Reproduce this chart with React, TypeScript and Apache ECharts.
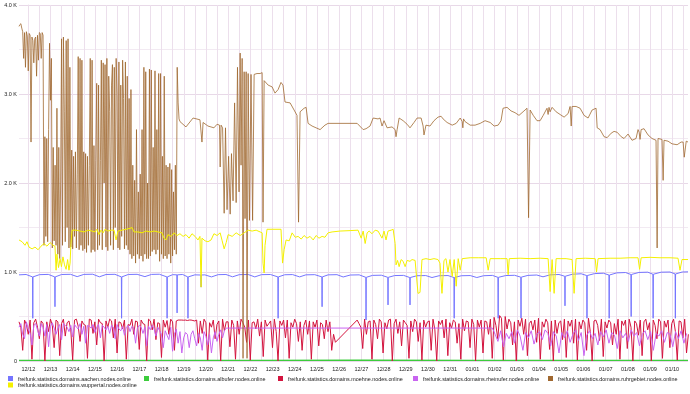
import React, { useEffect, useRef } from 'react';
import * as echarts from 'echarts';

// Tick labels (day 0 = 12/12)
const dayLabels = [
  '12/12', '12/13', '12/14', '12/15', '12/16', '12/17', '12/18', '12/19', '12/20', '12/21',
  '12/22', '12/23', '12/24', '12/25', '12/26', '12/27', '12/28', '12/29', '12/30', '12/31',
  '01/01', '01/02', '01/03', '01/04', '01/05', '01/06', '01/07', '01/08', '01/09', '01/10',
];

const names = {
  aachen: 'freifunk.statistics.domains.aachen.nodes.online',
  albufer: 'freifunk.statistics.domains.albufer.nodes.online',
  moehne: 'freifunk.statistics.domains.moehne.nodes.online',
  rheinufer: 'freifunk.statistics.domains.rheinufer.nodes.online',
  ruhrgebiet: 'freifunk.statistics.domains.ruhrgebiet.nodes.online',
  wuppertal: 'freifunk.statistics.domains.wuppertal.nodes.online',
};

const X_START = -0.42;
const X_END = 29.71;

// ruhrgebiet: dense part, 1-hour samples starting at X_START
const ruhrDenseStep = 1 / 24;
const ruhrDense = [
  3760, 3780, 3790, 3740, 3700, 3400, 3690, 3300, 3700, 3650, 3260, 3680, 3660, 2460,
  3640, 3600, 3350, 3620, 3640, 3200, 3660, 3380, 3690, 3680, 3400, 3690, 3660,
  1300, 2520, 1400, 2500, 1340, 2600,
  3570, 2930, 3400,
  1270, 2400, 1350, 2200, 1300, 2840, 1200, 2400, 1150, 2000,
  3620, 1300, 3640, 2800, 1340, 3600, 1500, 3620, 1270, 3300,
  1280, 2370, 1260, 2300, 1400, 2350, 1270, 2100,
  3420, 1250, 3400, 1300, 3380,
  1240, 2350, 1260, 2330, 1220, 2300, 1300, 2200,
  3400, 1220, 3380, 1250,
  2420, 1230, 2250, 3120, 1250, 3100, 1300, 2250,
  3380, 1250, 3350, 2000, 3330, 1280, 3400, 1240, 3200, 2800, 1300, 3100, 3330, 1250, 3300,
  1500, 3400, 2990, 1270, 3360, 1250, 3100, 1400, 3380, 2950, 1260, 3360, 1300, 3200, 1250,
  2950, 1200, 3050, 1150, 2200, 1180, 2030, 1100, 2600, 1200, 1900, 1150, 2100, 1180, 2600,
  1120, 3300, 1200, 3250, 1150, 2000,
  1150, 3280, 1180, 3270, 1230, 2400, 1250, 3260, 1200, 2600, 1250, 3230, 1120, 3230, 1200,
  2300, 1150, 3200, 1180,
  2200, 1150, 2180, 1200, 2220, 1100, 2150, 1180, 1900, 1250, 2200, 1200,
  3300, 2900, 2720, 2690,
];
// ruhrgebiet: remaining part as [day, value]
const ruhrTail: [number, number][] = [
  [7.10, 2630], [7.42, 2730], [7.73, 2710], [7.82, 2460], [7.87, 2680], [8.09, 2640], [8.36, 2620],
  [8.50, 2660], [8.61, 2650], [8.64, 2180], [8.68, 2650], [8.75, 2620], [8.82, 1660], [8.88, 2620],
  [8.95, 1700], [9.02, 2300], [9.09, 1650], [9.15, 2330], [9.22, 1800], [9.29, 2900], [9.36, 1780],
  [9.42, 3300], [9.49, 1900], [9.54, 3460], [9.58, 2200], [9.63, 3400], [9.67, 30], [9.72, 3250],
  [9.76, 1600], [9.81, 3250], [9.85, 30], [9.90, 3230], [9.96, 1580], [10.03, 3220], [10.10, 1580],
  [10.17, 3220], [10.30, 3230], [10.44, 3230], [10.53, 3240], [10.57, 1560], [10.62, 3150],
  [10.80, 3100], [10.98, 3080], [11.11, 3010], [11.25, 3050], [11.38, 3130], [11.47, 3100],
  [11.56, 2910], [11.79, 2900], [11.97, 2820], [12.10, 2760], [12.17, 1560], [12.24, 2800],
  [12.42, 2840], [12.51, 2850], [12.60, 2670], [12.78, 2640], [12.96, 2620], [13.14, 2600],
  [13.36, 2650], [13.50, 2670], [14.81, 2670], [15.08, 2600], [15.21, 2610], [15.39, 2640],
  [15.53, 2730], [15.75, 2720], [15.84, 2730], [15.93, 2640], [16.02, 2700], [16.16, 2620],
  [16.38, 2630], [16.52, 2600], [16.56, 2520], [16.61, 2600], [16.70, 2730], [16.88, 2700],
  [17.06, 2660], [17.19, 2620], [17.37, 2680], [17.51, 2730], [17.69, 2730], [17.78, 2640],
  [17.82, 2540], [17.91, 2650], [18.09, 2640], [18.27, 2700], [18.45, 2740], [18.59, 2750],
  [18.68, 2720], [18.86, 2680], [19.09, 2650], [19.27, 2670], [19.45, 2730], [19.54, 2690],
  [19.57, 2620], [19.60, 2720], [19.67, 2690], [19.90, 2650], [20.12, 2650], [20.35, 2670],
  [20.57, 2700], [20.80, 2680], [20.98, 2640], [21.16, 2650], [21.29, 2700], [21.38, 2840],
  [21.56, 2850], [21.74, 2810], [21.92, 2790], [22.10, 2760], [22.28, 2800], [22.46, 2840],
  [22.53, 1610], [22.60, 2820], [22.74, 2760], [22.91, 2700], [23.05, 2700], [23.19, 2760],
  [23.36, 2840], [23.41, 2770], [23.45, 2850], [23.50, 2800], [23.59, 2850], [23.77, 2800],
  [23.95, 2770], [24.13, 2740], [24.31, 2780], [24.40, 2860], [24.45, 2640], [24.49, 2860],
  [24.67, 2860], [24.85, 2840], [25.03, 2760], [25.21, 2730], [25.39, 2820], [25.57, 2840],
  [25.62, 2620], [25.75, 2600], [25.93, 2520], [26.07, 2510], [26.25, 2560], [26.38, 2580],
  [26.52, 2570], [26.70, 2520], [26.83, 2500], [27.01, 2550], [27.19, 2480], [27.37, 2500],
  [27.46, 2600], [27.51, 2570], [27.55, 2490], [27.60, 2600], [27.73, 2610], [27.91, 2540],
  [28.09, 2500], [28.27, 2480], [28.32, 1270], [28.36, 2500], [28.54, 2490], [28.59, 2030],
  [28.63, 2480], [28.81, 2470], [28.99, 2440], [29.22, 2430], [29.40, 2460], [29.49, 2460],
  [29.54, 2290], [29.63, 2470], [29.71, 2460],
];

const wuppertal: [number, number][] = [
  [-0.42, 1360], [-0.28, 1340], [-0.15, 1300], [-0.06, 1340], [0.03, 1280], [0.17, 1260], [0.30, 1280],
  [0.44, 1250], [0.57, 1290], [0.71, 1320], [0.84, 1290], [0.98, 1330], [1.11, 1300], [1.20, 1290],
  [1.25, 1020], [1.29, 1200], [1.36, 1050], [1.43, 1150], [1.49, 1060], [1.56, 1170], [1.63, 1080],
  [1.70, 1030], [1.77, 1140], [1.83, 1020], [1.88, 1100], [1.92, 1320], [1.97, 1470], [2.15, 1470],
  [2.33, 1460], [2.51, 1450], [2.69, 1470], [2.87, 1460], [3.00, 1450], [3.09, 1480], [3.18, 1420],
  [3.27, 1470], [3.37, 1440], [3.45, 1480], [3.59, 1460], [3.73, 1470], [3.86, 1470], [3.95, 1360],
  [4.04, 1460], [4.22, 1470], [4.40, 1480], [4.58, 1490], [4.67, 1500], [4.76, 1450], [4.94, 1450],
  [5.12, 1440], [5.30, 1460], [5.48, 1450], [5.66, 1460], [5.84, 1450], [6.02, 1440], [6.11, 1380],
  [6.20, 1360], [6.29, 1420], [6.43, 1400], [6.56, 1440], [6.70, 1410], [6.83, 1430], [6.97, 1400],
  [7.10, 1420], [7.24, 1380], [7.37, 1430], [7.51, 1400], [7.64, 1360], [7.73, 1400], [7.78, 830],
  [7.82, 1380], [7.96, 1350], [8.09, 1340], [8.23, 1360], [8.36, 1430], [8.50, 1410], [8.64, 1440],
  [8.73, 1350], [8.82, 1260], [8.91, 1330], [9.00, 1420], [9.18, 1400], [9.36, 1440], [9.54, 1410],
  [9.72, 1440], [9.90, 1470], [10.08, 1460], [10.26, 1470], [10.44, 1450], [10.53, 1440],
  [10.57, 1100], [10.62, 990], [10.66, 1300], [10.75, 1480], [10.98, 1480], [11.20, 1480],
  [11.38, 1480], [11.45, 1100], [11.52, 1250], [11.61, 1360], [11.75, 1350], [11.88, 1440],
  [12.02, 1390], [12.15, 1400], [12.29, 1370], [12.42, 1410], [12.55, 1380], [12.69, 1400],
  [12.83, 1360], [12.96, 1410], [13.09, 1380], [13.23, 1400], [13.36, 1390], [13.50, 1440],
  [13.68, 1450], [14.04, 1460], [14.49, 1465], [14.85, 1470], [14.99, 1380], [15.08, 1460],
  [15.17, 1320], [15.26, 1440], [15.35, 1460], [15.48, 1430], [15.62, 1470], [15.75, 1460],
  [15.93, 1380], [16.02, 1460], [16.11, 1360], [16.20, 1460], [16.34, 1470], [16.43, 1480],
  [16.52, 1320], [16.56, 1080], [16.63, 1130], [16.70, 1060], [16.79, 1140], [16.88, 1120],
  [16.97, 1060], [17.06, 1130], [17.19, 1120], [17.28, 1140], [17.42, 1130], [17.55, 760],
  [17.64, 770], [17.73, 1140], [17.91, 1150], [18.09, 1140], [18.27, 1150], [18.45, 1140],
  [18.54, 1100], [18.63, 760], [18.72, 1130], [18.81, 1150], [18.90, 1000], [18.99, 1140],
  [19.09, 950], [19.18, 1140], [19.27, 840], [19.36, 1150], [19.45, 1020], [19.54, 1150],
  [19.90, 1160], [20.26, 1160], [20.62, 1160], [20.71, 1020], [20.80, 1150], [21.25, 1150],
  [21.56, 1150], [21.61, 970], [21.66, 1150], [22.15, 1155], [22.60, 1150], [23.05, 1155],
  [23.41, 1150], [23.50, 780], [23.59, 1140], [23.68, 760], [23.77, 1150], [23.95, 1150],
  [24.22, 1150], [24.49, 1140], [24.58, 760], [24.67, 1150], [25.08, 1155], [25.53, 1150],
  [25.59, 1000], [25.66, 1150], [26.20, 1155], [26.65, 1155], [27.10, 1160], [27.46, 1160],
  [27.53, 1030], [27.60, 1160], [28.00, 1165], [28.45, 1160], [28.90, 1160], [29.26, 1155],
  [29.35, 1020], [29.44, 1140], [29.71, 1140],
];

const aachen: [number, number][] = [
  [-0.42, 968], [-0.1, 972],
  [0.19, 945], [0.2, 480], [0.21, 945], [0.5, 970], [0.9, 973],
  [1.19, 945], [1.2, 610], [1.21, 945], [1.5, 972], [1.9, 974],
  [2.2, 948], [2.5, 973], [2.9, 975],
  [3.2, 946], [3.5, 972], [3.9, 974],
  [4.19, 945], [4.2, 480], [4.21, 945], [4.5, 972], [4.9, 974],
  [5.25, 948], [5.55, 973], [5.9, 975],
  [6.24, 945], [6.25, 480], [6.26, 945], [6.5, 970], [6.69, 968], [6.7, 540], [6.71, 968], [6.95, 972],
  [7.18, 945], [7.19, 480], [7.2, 945], [7.5, 968], [7.77, 966], [7.78, 830], [7.79, 966], [7.95, 968],
  [8.25, 945], [8.55, 970], [8.9, 972],
  [9.2, 946], [9.5, 970], [9.9, 972],
  [10.2, 945], [10.5, 970], [10.9, 972],
  [11.24, 945], [11.25, 480], [11.26, 945], [11.55, 969], [11.9, 971],
  [12.22, 945], [12.5, 968], [12.9, 970],
  [13.22, 945], [13.23, 610], [13.24, 945], [13.5, 968], [13.9, 970],
  [14.18, 944], [14.5, 966], [14.9, 968],
  [15.2, 940], [15.21, 460], [15.22, 940], [15.5, 962], [15.9, 964],
  [16.19, 940], [16.2, 630], [16.21, 940], [16.5, 960], [16.9, 962],
  [17.18, 938], [17.19, 630], [17.2, 938], [17.5, 958], [17.9, 960],
  [18.18, 938], [18.5, 958], [18.9, 960],
  [19.17, 938], [19.18, 480], [19.19, 938], [19.5, 958], [19.9, 960],
  [20.2, 938], [20.5, 958], [20.9, 962],
  [21.15, 940], [21.16, 480], [21.17, 940], [21.5, 960], [21.9, 963],
  [22.18, 942], [22.19, 480], [22.2, 942], [22.5, 962], [22.9, 966],
  [23.18, 946], [23.5, 968], [23.9, 972],
  [24.16, 952], [24.17, 620], [24.18, 952], [24.5, 975], [24.9, 980],
  [25.15, 960], [25.16, 480], [25.17, 960], [25.5, 982], [25.9, 986],
  [26.15, 966], [26.16, 480], [26.17, 966], [26.5, 990], [26.9, 994],
  [27.14, 972], [27.15, 500], [27.16, 972], [27.5, 995], [27.9, 998],
  [28.13, 975], [28.14, 480], [28.15, 975], [28.5, 998], [28.9, 1000],
  [29.13, 978], [29.14, 480], [29.15, 978], [29.45, 1000], [29.71, 1002],
];

const albufer: [number, number][] = [
  [-0.42, 8], [5, 7], [10, 8], [15, 9], [20, 8], [25, 8], [29.71, 8],
];

// moehne: 2-hour samples, two stretches with a gap between them
const moehneStep = 1 / 12;
const moehneAStart = -0.42;
const moehneA = [
  440, 380, 120, 460, 410, 300, 460, 20, 430, 470, 380, 250,
  450, 420, 0, 440, 330, 470, 400, 150, 460, 440, 60, 420,
  470, 280, 430, 450, 350, 10, 460, 470, 390, 220, 450, 410,
  400, 30, 470, 460, 310, 440, 180, 470, 430, 420, 0, 450,
  380, 470, 450, 260, 470, 90, 440, 430, 360, 460, 20, 410,
  400, 470, 300, 450, 440, 130, 460, 420, 410, 0, 470, 450,
  350, 470, 240, 430, 420, 40, 460, 380, 455, 300, 470, 440,
  120, 450, 460, 460, 460, 458, 460, 455, 460, 460, 455, 450,
  460, 200, 450, 310, 470, 430, 10, 430, 380, 460, 250, 410,
  450, 0, 470, 340, 440, 440, 160, 460, 400, 20, 450, 300,
  470, 430, 380, 210, 460, 10, 430, 440, 360, 470, 280, 440,
  50, 460, 390, 420, 450, 150, 470, 330, 0, 450, 400, 460,
  260, 460, 30, 430, 380, 470, 420, 220, 440, 120, 400, 460,
  300, 450, 20, 440, 380, 460, 170, 430, 410, 250, 460, 330,
  440, 120, 300, 210,
];
const moehneBStart = 14.81;
const moehneB = [
  460, 420, 380, 140, 470, 300, 440, 450, 20, 460, 410, 250,
  470, 440, 90, 430, 360, 460, 470, 0, 420, 470, 310, 440,
  170, 460, 430, 400, 30, 450, 330, 470, 440, 220, 430, 10,
  460, 380, 440, 450, 120, 470, 350, 0, 450, 410, 460, 260,
  470, 60, 430, 370, 460, 440, 200, 420, 20, 470, 340, 450,
  440, 150, 470, 410, 0, 460, 380, 460, 90, 450, 440, 300,
  470, 30, 490, 400, 250, 510, 480, 10, 500, 360, 470, 430,
  180, 440, 0, 460, 390, 480, 300, 470, 60, 420, 450, 350,
  460, 210, 480, 20, 440, 380, 470, 430, 130, 450, 0, 460,
  310, 430, 450, 240, 470, 40, 450, 390, 460, 200, 470, 10,
  440, 360, 460, 430, 120, 480, 330, 0, 450, 460, 400, 230,
  470, 50, 440, 370, 460, 430, 180, 420, 300, 470, 20, 450,
  400, 460, 140, 470, 380, 0, 450, 420, 290, 460, 60, 440,
  470, 350, 430, 0, 460, 400, 250, 470, 440, 30, 450, 380,
  460, 150, 420, 470, 330, 10, 450, 440, 260, 470, 90, 300,
];

// rheinufer: two stretches
const rheinAStart = -0.42;
const rheinAStep = 1 / 12;
const rheinA = [
  380, 420, 300, 250, 440, 360, 310, 180, 400, 420, 350, 280,
  420, 380, 280, 410, 160, 390, 430, 370, 300, 370, 410, 240,
  420, 400, 380, 330, 400, 270, 410, 380, 360, 420, 300, 390,
  200, 400, 390, 370, 410, 320, 380, 410, 260, 400, 380, 350,
  390, 310, 400, 380, 250, 410, 360, 340, 390, 290, 380, 400,
  330, 390, 370, 200, 370, 400, 380, 310, 380, 170, 390, 350,
  400, 360, 280, 380, 340, 300, 150, 340, 290, 240, 380, 110,
  300, 360, 200, 330, 90, 260, 320, 300, 150, 300, 340, 250,
  170, 310, 260, 120, 330, 280, 180, 300, 90, 260, 330, 220,
  300, 350, 260, 340, 370,
];
const rheinBStart = 20.9;
const rheinBStep = 0.125;
const rheinB = [
  370, 300, 220, 340, 160, 310, 250, 330, 200, 350,
  280, 120, 320, 260, 340, 190, 300, 330, 240, 350,
  310, 170, 330, 280, 90, 320, 260, 340, 210, 300,
  350, 230, 320, 60, 290, 340, 250, 310, 180, 330,
  270, 350, 200, 320, 290, 140, 340, 260, 310, 220,
  350, 280, 320, 170, 300, 340, 240, 330, 120, 310,
  280, 340, 210, 320, 300, 160, 330, 250, 340, 200,
  310,
];

const colors = {
  aachen: '#7575ff',
  albufer: '#3ccc3c',
  moehne: '#d3143e',
  rheinufer: '#c864f0',
  ruhrgebiet: '#a06830',
  wuppertal: '#f4f000',
};

const widths = {
  aachen: 1,
  albufer: 1.2,
  moehne: 1,
  rheinufer: 1,
  ruhrgebiet: 0.8,
  wuppertal: 1,
};

const seq = (start: number, step: number, vals: number[]) =>
  vals.map((v, i) => [start + i * step, v]);

const FONT = '"Liberation Sans", Arial, sans-serif';

export default function App() {
  const ref = useRef<HTMLDivElement>(null);
  useEffect(() => {
    if (!ref.current) return;
    const chart = echarts.init(ref.current, null, { renderer: 'svg' });
    const halfDays: number[] = [];
    for (let i = 0; i < dayLabels.length * 2; i++) halfDays.push(i / 2);
    const dayTicks = dayLabels.map((_, i) => i);

    const mkSeries = (key: keyof typeof names, data: any[]) => ({
      name: names[key],
      type: 'line',
      data,
      showSymbol: false,
      symbol: 'none',
      color: colors[key],
      lineStyle: { width: widths[key], color: colors[key] },
      emphasis: { disabled: true },
    });

    const legendSpots: [keyof typeof names, number, number][] = [
      ['aachen', 8, 376],
      ['albufer', 144, 376],
      ['moehne', 278, 376],
      ['rheinufer', 413, 376],
      ['ruhrgebiet', 548, 376],
      ['wuppertal', 8, 382.5],
    ];

    chart.setOption({
      animation: false,
      grid: { left: 19, right: 2, top: 5, bottom: 33, containLabel: false },
      xAxis: {
        type: 'value',
        min: X_START,
        max: X_END,
        axisLine: { show: false },
        axisTick: { show: false, customValues: halfDays },
        splitLine: { show: true, lineStyle: { color: '#ecdfec', width: 1 } },
        axisLabel: {
          customValues: dayTicks,
          formatter: (v: number) => dayLabels[Math.round(v)] ?? '',
          fontSize: 5.5,
          fontFamily: FONT,
          color: '#222',
          margin: 5,
        },
      },
      yAxis: {
        type: 'value',
        min: 0,
        max: 4000,
        interval: 500,
        axisLine: { show: true, lineStyle: { color: '#ecdfec' } },
        axisTick: { show: false },
        splitLine: { show: true, lineStyle: { color: ['#e8d9e8', '#f2eaf2'], width: 1 } },
        axisLabel: {
          formatter: (v: number) =>
            v === 0 ? '0' : v % 1000 === 0 ? (v / 1000).toFixed(1) + ' K' : '',
          fontSize: 5.5,
          fontFamily: FONT,
          color: '#222',
          margin: 2,
        },
      },
      legend: legendSpots.map(([key, left, top]) => ({
        left,
        top,
        padding: 0,
        itemWidth: 5,
        itemHeight: 5,
        icon: 'rect',
        selectedMode: false,
        data: [names[key]],
        textStyle: { fontSize: 5.4, fontFamily: FONT, color: '#222' },
      })),
      series: [
        mkSeries('aachen', aachen),
        mkSeries('albufer', albufer),
        mkSeries('moehne', [...seq(moehneAStart, moehneStep, moehneA), ...seq(moehneBStart, moehneStep, moehneB)]),
        mkSeries('rheinufer', [...seq(rheinAStart, rheinAStep, rheinA), ...seq(rheinBStart, rheinBStep, rheinB)]),
        mkSeries('ruhrgebiet', [...seq(X_START, ruhrDenseStep, ruhrDense), ...ruhrTail]),
        mkSeries('wuppertal', wuppertal),
      ],
    });
    return () => chart.dispose();
  }, []);
  return (
    <div
      ref={ref}
      style={{ position: 'fixed', left: 0, top: 0, width: 690, height: 394 }}
    />
  );
}
